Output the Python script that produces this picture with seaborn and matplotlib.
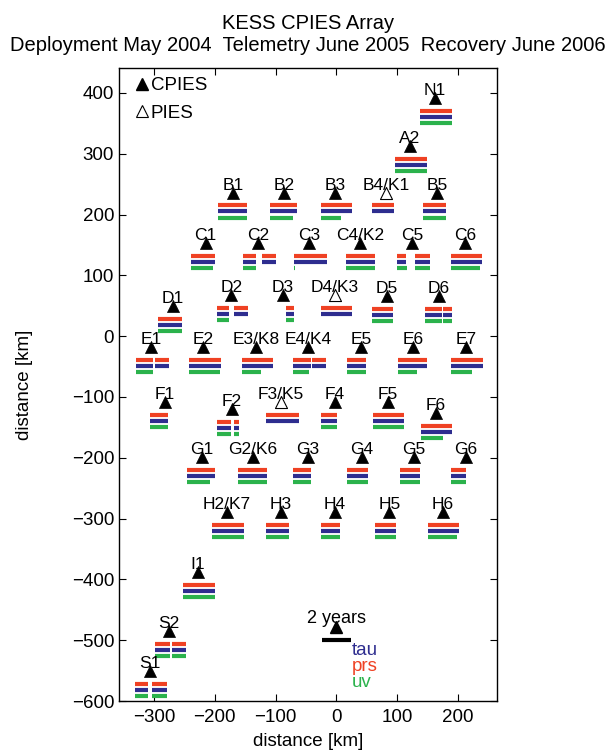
import numpy as np
import pandas as pd
import matplotlib.pyplot as plt
import seaborn as sns
from matplotlib.lines import Line2D

# station names and positions [km]
names = ["N1", "A2",
         "B1", "B2", "B3", "B4/K1", "B5",
         "C1", "C2", "C3", "C4/K2", "C5", "C6",
         "D1", "D2", "D3", "D4/K3", "D5", "D6",
         "E1", "E2", "E3/K8", "E4/K4", "E5", "E6", "E7",
         "F1", "F2", "F3/K5", "F4", "F5", "F6",
         "G1", "G2/K6", "G3", "G4", "G5", "G6",
         "H2/K7", "H3", "H4", "H5", "H6",
         "I1", "S2", "S1"]
sta_x = [162, 121,
         -170, -86, -2, 82, 166,
         -215, -129, -45, 39, 124, 212,
         -269, -173, -88, -2, 83, 169,
         -305, -219, -132, -47, 41, 126, 213,
         -282, -172, -91, -2, 85, 164,
         -221, -137, -47, 42, 128, 213,
         -180, -91, -2, 87, 175,
         -228, -275, -307]
sta_y = [392, 313,
         236, 236, 236, 236, 236,
         153, 153, 153, 153, 153, 153,
         50, 68, 68, 68, 66, 66,
         -18, -18, -18, -18, -18, -18, -18,
         -108, -120, -108, -108, -108, -126,
         -199, -199, -199, -199, -199, -199,
         -289, -289, -289, -289, -289,
         -388, -485, -551]
pies_sites = ["B4/K1", "D4/K3", "F3/K5"]

# data records, years after deployment (May 2004)
prs_spans = [[(0, 2.16)], [(0, 2.15)],
             [(0, 1.95)], [(0, 1.89)], [(0, 2.16)], [(0, 1.55)], [(0, 1.62)],
             [(0, 1.62)], [(0, 0.86), (1.27, 2.23)], [(0, 2.23)], [(0, 2.03)], [(0, 0.59), (1.21, 2.23)], [(0, 2.16)],
             [(0, 1.62)], [(0, 0.86), (1.2, 2.16)], [(1.2, 1.75)], [(0, 2.16)], [(0, 1.41)], [(0, 1.17), (1.27, 1.89)],
             [(0, 1.14), (1.27, 2.23)], [(0, 2.23)], [(0, 2.16)], [(0, 1.2), (1.27, 2.25)], [(0, 1.34)], [(0, 1.96)], [(0, 2.16)],
             [(0, 1.2)], [(0, 0.93), (1.14, 1.48)], [(0, 2.23)], [(0, 1.14)], [(0, 2.1)], [(0, 2.1)],
             [(0, 1.89)], [(0, 1.96)], [(0, 1.2)], [(0, 1.41)], [(0, 1.41)], [(0, 1.0)],
             [(0, 2.16)], [(0, 1.55)], [(0, 1.34)], [(0, 1.48)], [(0, 2.1)],
             [(0, 2.16)], [(0, 1.07), (1.2, 2.16)], [(0, 0.86), (1.14, 2.16)]]
# tau records are the same as prs at every site
tau_spans = [list(s) for s in prs_spans]
uv_spans = [[(0, 2.16)], [(0, 2.15)],
            [(0, 1.95)], [(0, 1.62)], [(0, 1.41)], [], [(0, 1.62)],
            [(0, 1.48)], [(0, 0.86)], [(0, 0.07)], [(0, 2.03)], [(0, 0.66), (1.21, 2.23)], [(0, 2.03)],
            [(0, 1.62)], [(0, 0.86)], [(1.2, 1.75)], [], [(0, 1.41)], [(0, 1.17), (1.27, 1.89)],
            [(0, 1.14)], [(0, 2.16)], [(0, 1.34)], [(0, 1.07)], [(0, 1.34)], [(0, 1.27)], [(0, 1.41)],
            [(0, 1.2)], [(0, 0.93), (1.14, 1.48)], [], [(0, 1.14)], [(0, 2.1)], [(0, 1.48)],
            [(0, 1.55)], [(0, 1.96)], [(0, 1.2)], [(0, 1.41)], [(0, 1.41)], [(0, 1.0)],
            [(0, 2.16)], [(0, 1.55)], [(0, 1.34)], [(0, 1.48)], [(0, 1.96)],
            [(0, 2.16)], [(0, 1.07), (1.2, 2.16)], [(0, 0.86), (1.14, 2.16)]]

scale_x, scale_y = 0, -478
km_per_year = 24

colors = {"tau": "#2e2d8f", "prs": "#ef4123", "uv": "#2bb24c"}
offsets = {"prs": -21, "tau": -31, "uv": -41}

sns.set_style("ticks")
plt.rcParams["font.family"] = ["Liberation Sans", "DejaVu Sans"]
plt.rcParams["text.color"] = "black"
plt.rcParams["axes.labelcolor"] = "black"
plt.rcParams["xtick.color"] = "black"
plt.rcParams["ytick.color"] = "black"

stations = pd.DataFrame({"name": names, "x": sta_x, "y": sta_y})
stations["pies"] = stations["name"].isin(pies_sites)

rows = []
for name, x, y, p, t, u in zip(names, sta_x, sta_y, prs_spans, tau_spans, uv_spans):
    for var, spans in (("prs", p), ("tau", t), ("uv", u)):
        for t0, t1 in spans:
            rows.append({"var": var, "x0": x + (t0 - 1) * km_per_year,
                         "x1": x + (t1 - 1) * km_per_year, "y": y + offsets[var]})
segs = pd.DataFrame(rows)

fig = plt.figure(figsize=(6.12, 7.52), dpi=100)
ax = fig.add_axes([0.1944, 0.0678, 0.6176, 0.8418])

for var, grp in segs.groupby("var"):
    ax.hlines(grp["y"], grp["x0"], grp["x1"], colors=colors[var], lw=3.0,
              capstyle="butt", zorder=2)

sns.scatterplot(data=stations[~stations["pies"]], x="x", y="y", marker="^", s=75,
                color="black", edgecolor="black", linewidth=0.5, ax=ax, zorder=4, legend=False)
sns.scatterplot(data=stations[stations["pies"]], x="x", y="y", marker="^", s=75,
                color="white", edgecolor="black", linewidth=0.8, ax=ax, zorder=4, legend=False)
for _, r in stations.iterrows():
    ax.text(r["x"], r["y"] + 5, r["name"], ha="center", va="baseline", fontsize=12.5, zorder=3)

# 2-year scale
ax.plot([scale_x], [scale_y], marker="^", color="black", ms=8.7, zorder=4)
ax.hlines(scale_y + offsets["prs"], scale_x - km_per_year, scale_x + km_per_year,
          colors="black", lw=3.0, capstyle="butt")
ax.text(scale_x, scale_y + 6, "2 years", ha="center", va="baseline", fontsize=13)
for var, dy in (("tau", -46), ("prs", -72), ("uv", -99)):
    ax.text(scale_x + 25, scale_y + dy, var, color=colors[var], ha="left", va="baseline", fontsize=13.5)

handles = [Line2D([], [], ls="none", marker="^", color="black", ms=9),
           Line2D([], [], ls="none", marker="^", mfc="white", mec="black", mew=0.8, ms=9)]
ax.legend(handles, ["CPIES", "PIES"], loc="upper left", bbox_to_anchor=(0.02, 1.0),
          frameon=False, fontsize=13.5, handlelength=0.6, handletextpad=0.2,
          borderaxespad=0.1, labelspacing=0.55)

ax.set_xlim(-357.6, 264.1)
ax.set_ylim(-600, 441)
ax.set_xticks(np.arange(-300, 201, 100))
ax.set_yticks(np.arange(-600, 401, 100))
ax.tick_params(direction="in", top=True, right=True, length=5, labelsize=13.5)
ax.tick_params(axis="x", pad=6)
for sp in ax.spines.values():
    sp.set_linewidth(1.0)
    sp.set_color("black")
ax.set_xlabel("distance [km]", fontsize=13.5, labelpad=5)
ax.set_ylabel("distance [km]", fontsize=13.5, labelpad=28)
ax.set_title("KESS CPIES Array\nDeployment May 2004  Telemetry June 2005  Recovery June 2006",
             fontsize=14.5, pad=12)

fig.savefig("out.png", dpi=100)
